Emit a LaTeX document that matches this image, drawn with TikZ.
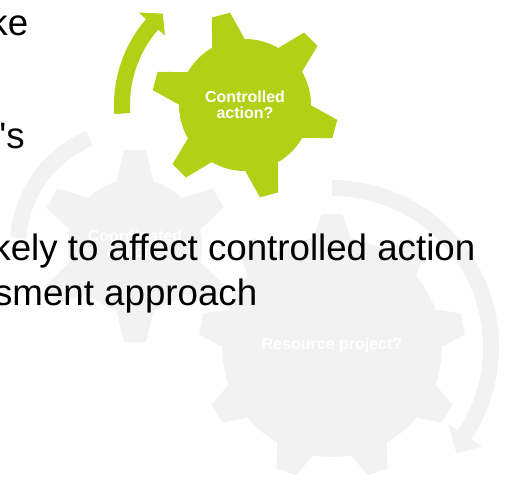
\documentclass[tikz,border=0pt]{standalone}
\usepackage{fontspec}
\setmainfont{Liberation Sans}
\newfontfamily\bodyfont{Liberation Sans}
\definecolor{geargreen}{RGB}{178,208,22}
\definecolor{geargray}{RGB}{242,242,242}
% #1 colour, #2 cx, #3 cy, #4 body radius, #5 tip radius, #6 base width, #7 tip width, #8 tooth angles
\newcommand\mygear[8]{%
  \begin{scope}[shift={(#2,#3)}]
    \fill[#1] (0,0) circle (#4);
    \foreach \a in {#8} {
      \fill[#1,rotate=\a] ({#4-5},{-#6/2}) -- (#5,{-#7/2}) -- (#5,{#7/2}) -- ({#4-5},{#6/2}) -- cycle;
    }
  \end{scope}}
\begin{document}
\begin{tikzpicture}[x=1pt,y=1pt,
  geartext/.style={text=white,font=\bfseries\fontsize{16}{16.5}\selectfont,align=center,inner sep=0},
  bodytext/.style={text=black,font=\bodyfont\fontsize{36.7}{44}\selectfont,inner sep=0,anchor=base east}]
\useasboundingbox (0,0) rectangle (507,-477);

% big gray gear and its arrow
\begin{scope}[shift={(332,-347)}]
  \fill[geargray] (90:167) arc[start angle=90, end angle=-33.5, radius=167]
    -- (-33.5:180) -- (-40.5:164) -- (-33.5:139) -- (-33.5:151)
    arc[start angle=-33.5, end angle=90, radius=151] -- cycle;
\end{scope}
\mygear{geargray}{332}{-347}{110}{133}{40}{21}{90,50,10,-30,-70,-110,-150,170,130}

% left gray gear and its arc
\begin{scope}[shift={(135,-246)}]
  \fill[geargray] (113:125) arc[start angle=113, end angle=176, radius=125]
    -- (176:109) arc[start angle=176, end angle=113, radius=109] -- cycle;
\end{scope}
\mygear{geargray}{135}{-246}{67}{96}{38}{22}{90,30,-30,-90,-150,150}

% green gear and its arrow
\begin{scope}[shift={(245,-105)}]
  \fill[geargreen] (184:131) arc[start angle=184, end angle=139, radius=131]
    -- (139:141) -- (132:123) -- (139:106) -- (139:115)
    arc[start angle=139, end angle=184, radius=115] -- cycle;
\end{scope}
\mygear{geargreen}{245}{-105}{66}{93}{35}{19}{105,45,-15,-75,-135,165}

% gear labels
\node[geartext] (lblC) at (245,-105) {Controlled\\action?};
\node[geartext] (lblK) at (135,-244) {Coordinated\\action?};
\node[geartext] (lblR) at (332,-345) {Resource project?};

% overlaid slide text (cut at the left edge)
\begin{scope}
  \clip (0,0) rectangle (507,-477);
  \node[bodytext] (txtA) at (28.4,-35) {ke};
  \node[bodytext] (txtB) at (25,-148) {'s};
  \node[bodytext] (txtC) at (475.5,-260) {kely to affect controlled action};
  \node[bodytext] (txtD) at (257.5,-305) {sment approach};
\end{scope}
\end{tikzpicture}
\end{document}
